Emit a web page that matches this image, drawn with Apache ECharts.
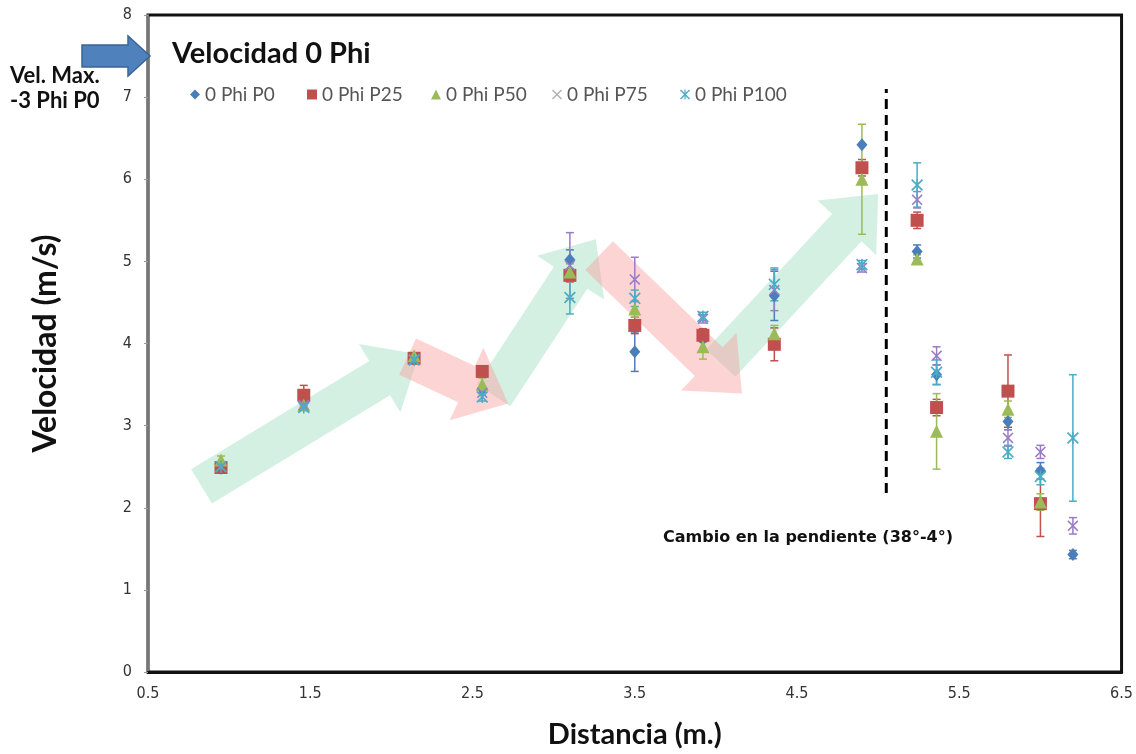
<!DOCTYPE html>
<html>
<head>
<meta charset="utf-8">
<script src="https://cdn.jsdelivr.net/npm/echarts@6/dist/echarts.min.js"></script>
<style>
html,body{margin:0;padding:0;background:#fff;}
#chart{width:1136px;height:754px;}
</style>
</head>
<body>
<div id="chart"></div>
<script>
// Distances (m.) of each measuring point
const distancia = [0.95, 1.46, 2.14, 2.56, 3.10, 3.50, 3.92, 4.36, 4.90, 5.24, 5.36, 5.80, 6.00, 6.20];
// Velocities (m/s) per series
const p0   = [2.48, 3.30, 3.82, 3.45, 5.02, 3.90, 4.05, 4.58, 6.42, 5.12, 3.62, 3.05, 2.45, 1.43];
const p25  = [2.49, 3.37, 3.82, 3.66, 4.83, 4.22, 4.10, 3.99, 6.14, 5.50, 3.22, 3.42, 2.05, null];
const p50  = [2.58, 3.25, 3.85, 3.50, 4.87, 4.42, 3.96, 4.12, 6.00, 5.03, 2.93, 3.20, 2.07, null];
const p75  = [2.50, 3.25, 3.80, 3.40, 4.95, 4.78, 4.30, 4.65, 4.92, 5.75, 3.85, 2.85, 2.68, 1.78];
const p100 = [2.50, 3.22, 3.80, 3.35, 4.56, 4.55, 4.33, 4.72, 4.96, 5.93, 3.65, 2.68, 2.38, 2.85];
// Error (+/-) per series
const e0   = [0, 0, 0, 0, 0.12, 0.24, 0, 0.30, 0, 0.08, 0.12, 0.10, 0.10, 0.05];
const e25  = [0, 0.12, 0, 0.05, 0.08, 0.10, 0.08, 0.20, 0.10, 0.10, 0.10, 0.44, 0.40, 0];
const e50  = [0.05, 0.05, 0, 0.08, 0.10, 0.10, 0.15, 0.10, 0.67, 0.05, 0.46, 0.10, 0.10, 0];
const e75  = [0, 0, 0, 0, 0.40, 0.27, 0.05, 0.25, 0.05, 0.10, 0.11, 0.10, 0.08, 0.10];
const e100 = [0, 0, 0, 0.05, 0.20, 0.10, 0.05, 0.20, 0.05, 0.27, 0.15, 0.08, 0.10, 0.77];
// Trend arrows [x1, y1, x2(tip), y2(tip)] in data units
const arrowsUp   = [[0.83, 2.26, 2.17, 3.87], [2.63, 3.37, 3.26, 5.27], [4.03, 3.76, 5.00, 5.82]];
const arrowsDown = [[2.10, 3.84, 2.72, 3.27], [3.28, 5.07, 4.16, 3.39]];
// Slope change line
const cambioX = 5.05, cambioY = [2.18, 7.10];
const xTicks = [0.5, 1.5, 2.5, 3.5, 4.5, 5.5, 6.5];

const names = ['0 Phi P0', '0 Phi P25', '0 Phi P50', '0 Phi P75', '0 Phi P100'];
const colors = ['#4a7ebb', '#c0504d', '#9bbb59', '#9a7cc4', '#4bacc6'];
const legendColors = ['#4a7ebb', '#c0504d', '#9bbb59', '#b0b0b0', '#4bacc6'];
const xPath = 'path://M0,1L1,0L5,4L9,0L10,1L6,5L10,9L9,10L5,6L1,10L0,9L4,5Z';
const starPath = 'path://M0,1L1,0L5,4L9,0L10,1L6,5L10,9L9,10L5,6L1,10L0,9L4,5Z M4.4,0L5.6,0L5.6,10L4.4,10Z';
const symbols = ['diamond', 'rect', 'triangle', xPath, starPath];
const sizes = [[11, 13], 13, 13, 11, 12];
const vals = [p0, p25, p50, p75, p100];
const errs = [e0, e25, e50, e75, e100];
const legendLeft = [190, 307, 431, 552, 680];

function arrowItem(params, api) {
  const a = api.coord([api.value(0), api.value(1)]);
  const b = api.coord([api.value(2), api.value(3)]);
  const dx = b[0] - a[0], dy = b[1] - a[1];
  const L = Math.sqrt(dx * dx + dy * dy);
  const ux = dx / L, uy = dy / L, nx = -uy, ny = ux;
  const sw = 20, hw = 40, hl = 46;
  const nk = [b[0] - ux * hl, b[1] - uy * hl];
  const pts = [
    [a[0] + nx * sw, a[1] + ny * sw],
    [nk[0] + nx * sw, nk[1] + ny * sw],
    [nk[0] + nx * hw, nk[1] + ny * hw],
    [b[0], b[1]],
    [nk[0] - nx * hw, nk[1] - ny * hw],
    [nk[0] - nx * sw, nk[1] - ny * sw],
    [a[0] - nx * sw, a[1] - ny * sw]
  ];
  return { type: 'polygon', shape: { points: pts }, style: { fill: api.visual('color') } };
}

function errItem(params, api) {
  const x = api.value(0), y = api.value(1), e = api.value(2);
  if (y == null || isNaN(y) || !e) return null;
  const top = api.coord([x, y + e]);
  const bot = api.coord([x, y - e]);
  const c = api.visual('color');
  const st = { stroke: c, lineWidth: 1.5 };
  return {
    type: 'group',
    children: [
      { type: 'line', shape: { x1: top[0], y1: top[1], x2: bot[0], y2: bot[1] }, style: st },
      { type: 'line', shape: { x1: top[0] - 4, y1: top[1], x2: top[0] + 4, y2: top[1] }, style: st },
      { type: 'line', shape: { x1: bot[0] - 4, y1: bot[1], x2: bot[0] + 4, y2: bot[1] }, style: st }
    ]
  };
}

const series = [];
series.push({
  type: 'custom', name: 'up', renderItem: arrowItem, z: 1, silent: true,
  itemStyle: { color: 'rgba(150,220,188,0.42)' },
  data: arrowsUp
});
series.push({
  type: 'custom', name: 'down', renderItem: arrowItem, z: 1, silent: true,
  itemStyle: { color: 'rgba(248,160,160,0.45)' },
  data: arrowsDown
});
for (let s = 0; s < 5; s++) {
  series.push({
    type: 'custom', name: names[s] + ' err', renderItem: errItem, z: 2, silent: true,
    itemStyle: { color: colors[s] },
    data: distancia.map((x, i) => [x, vals[s][i], errs[s][i]])
  });
}
for (let s = 0; s < 5; s++) {
  series.push({
    type: 'scatter', name: names[s], z: 3,
    symbol: symbols[s], symbolSize: sizes[s],
    itemStyle: { color: colors[s], opacity: 1 },
    data: distancia.map((x, i) => [x, vals[s][i]]).filter(d => d[1] != null)
  });
}
series.push({
  type: 'line', name: 'cambio', z: 2, silent: true, symbol: 'none',
  lineStyle: { color: '#000', width: 3, type: [10, 6] },
  data: [[cambioX, cambioY[0]], [cambioX, cambioY[1]]]
});

const legends = names.map((n, i) => ({
  left: legendLeft[i], top: 85, itemWidth: 10, itemHeight: 10, padding: 0,
  textStyle: { fontFamily: 'Lato', fontSize: 19, color: '#555' },
  data: [{ name: n, itemStyle: { color: legendColors[i] } }]
}));

const tickFont = "'DejaVu Sans Condensed', 'Liberation Sans', sans-serif";
const chart = echarts.init(document.getElementById('chart'));
chart.setOption({
  animation: false,
  backgroundColor: '#fff',
  title: {
    text: 'Velocidad 0 Phi', left: 167, top: 34,
    textStyle: { fontFamily: 'Lato', fontWeight: 'bold', fontSize: 29, color: '#111' }
  },
  legend: legends,
  grid: {
    left: 148, right: 13, top: 15, bottom: 79,
    show: true, borderColor: '#111', borderWidth: 3, backgroundColor: 'transparent'
  },
  xAxis: {
    type: 'value', min: 0.5, max: 6.5, interval: 0.5,
    name: 'Distancia (m.)', nameLocation: 'middle', nameGap: 48,
    nameTextStyle: { fontFamily: 'Lato', fontWeight: 'bold', fontSize: 29, color: '#111' },
    axisLine: { lineStyle: { color: '#111', width: 3 } },
    axisTick: { show: false },
    splitLine: { show: false },
    axisLabel: {
      margin: 14, fontFamily: tickFont, fontSize: 16, color: '#333',
      formatter: v => (xTicks.some(t => Math.abs(t - v) < 1e-6) ? String(v) : '')
    }
  },
  yAxis: {
    type: 'value', min: 0, max: 8, interval: 1,
    name: 'Velocidad (m/s)', nameLocation: 'middle', nameGap: 86,
    nameTextStyle: { fontFamily: 'Lato', fontWeight: 'bold', fontSize: 32, color: '#111' },
    axisLine: { show: true, lineStyle: { color: '#777', width: 2 } },
    axisTick: { show: true, length: 4, lineStyle: { color: '#999' } },
    splitLine: { show: false },
    axisLabel: { margin: 16, fontFamily: tickFont, fontSize: 16, color: '#333' }
  },
  graphic: [
    {
      type: 'polygon', z: 10,
      shape: { points: [[82, 45], [128, 45], [128, 36], [150, 56], [128, 76], [128, 67], [82, 67]] },
      style: { fill: '#4f81bd', stroke: '#3a6596', lineWidth: 1.5 }
    },
    {
      type: 'text', left: 10, top: 65, z: 10,
      style: { text: 'Vel. Max.', font: 'bold 22px Lato', fill: '#111' }
    },
    {
      type: 'text', left: 10, top: 90, z: 10,
      style: { text: '-3 Phi P0', font: 'bold 22px Lato', fill: '#111' }
    },
    {
      type: 'text', left: 663, top: 530, z: 10,
      style: { text: 'Cambio en la pendiente (38°-4°)', font: "bold 16px 'DejaVu Sans'", fill: '#111' }
    }
  ],
  series: series
});
</script>
</body>
</html>
